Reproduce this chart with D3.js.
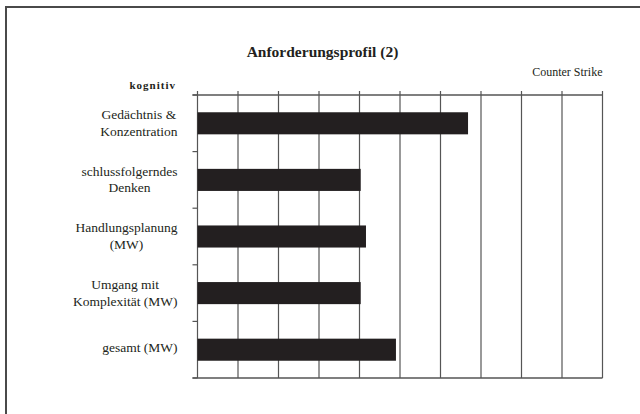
<!DOCTYPE html>
<html><head><meta charset="utf-8">
<script src="https://cdn.jsdelivr.net/npm/d3@7"></script>
<style>html,body{margin:0;padding:0;background:#fff;}svg{display:block;}</style>
</head><body>
<script>
const title = "Anforderungsprofil (2)";
const seriesName = "Counter Strike";
const groupLabel = "kognitiv";
const categories = [
  ["Gedächtnis &", "Konzentration"],
  ["schlussfolgerndes", "Denken"],
  ["Handlungsplanung", "(MW)"],
  ["Umgang mit", "Komplexität (MW)"],
  ["gesamt (MW)"]
];
const values = [6.68, 4.03, 4.16, 4.03, 4.9];
const xTicks = [0,1,2,3,4,5,6,7,8,9,10];

const W = 640, H = 414;
const m = {left:197.5, right:602.5, top:95, bottom:378};
const svg = d3.select("body").append("svg").attr("width", W).attr("height", H);
const font = "Liberation Serif, Times New Roman, serif";

// frame (top and left)
svg.append("path").attr("d", `M6,${H} L6,7 L${W},7`).attr("fill","none").attr("stroke","#4a4a4a").attr("stroke-width",2);

const x = d3.scaleLinear().domain([0,10]).range([m.left, m.right]);
const y = d3.scaleBand().domain(d3.range(categories.length)).range([m.top, m.bottom]).paddingInner(0.61).paddingOuter(0.305);
const yb = d3.scaleBand().domain(d3.range(categories.length)).range([m.top, m.bottom]);

// gridlines
svg.append("g").selectAll("line").data(xTicks).join("line")
  .attr("x1", d=>x(d)).attr("x2", d=>x(d)).attr("y1", m.top-4).attr("y2", m.bottom)
  .attr("stroke","#555").attr("stroke-width",1.2);
// top & bottom axis lines
svg.append("line").attr("x1", m.left-5).attr("x2", m.right).attr("y1", m.top).attr("y2", m.top).attr("stroke","#555").attr("stroke-width",1.4);
svg.append("line").attr("x1", m.left-5).attr("x2", m.right).attr("y1", m.bottom).attr("y2", m.bottom).attr("stroke","#555").attr("stroke-width",1.4);
// left category ticks
const bounds = d3.range(categories.length+1).map(i => i<categories.length ? yb(i) : m.bottom);
svg.append("g").selectAll("line").data(bounds).join("line")
  .attr("x1", m.left-5).attr("x2", m.left).attr("y1", d=>d).attr("y2", d=>d)
  .attr("stroke","#555").attr("stroke-width",1.2);

// bars
svg.append("g").selectAll("rect").data(values).join("rect")
  .attr("x", x(0)).attr("y", (d,i)=>y(i)).attr("width", d=>x(d)-x(0)).attr("height", y.bandwidth())
  .attr("fill","#231f20");

// category labels
const rightEdge = 177.5;
categories.forEach((lines, i) => {
  const c = yb(i) + yb.bandwidth()/2;
  const g = svg.append("g");
  const texts = lines.map((t, j) => {
    const base = lines.length === 1 ? c + 2 : c - 4.3 + j*16.7;
    return g.append("text").attr("y", base).attr("font-family", font).attr("font-size", 13.5)
      .attr("fill","#231f20").attr("text-anchor","middle").text(t);
  });
  const maxW = d3.max(texts, t => t.node().getComputedTextLength());
  texts.forEach(t => t.attr("x", rightEdge - maxW/2));
});

// title
svg.append("text").attr("x", 322.5).attr("y", 56.5).attr("text-anchor","middle")
  .attr("font-family", font).attr("font-weight","bold").attr("font-size", 15.5).attr("fill","#231f20").text(title);
// series name
svg.append("text").attr("x", m.right).attr("y", 75.5).attr("text-anchor","end")
  .attr("font-family", font).attr("font-size", 12).attr("fill","#231f20").text(seriesName);
// group label
svg.append("text").attr("x", 176).attr("y", 89.3).attr("text-anchor","end")
  .attr("font-family", font).attr("font-weight","bold").attr("font-size", 11).attr("letter-spacing", 1)
  .attr("fill","#231f20").text(groupLabel);
</script>
</body></html>
